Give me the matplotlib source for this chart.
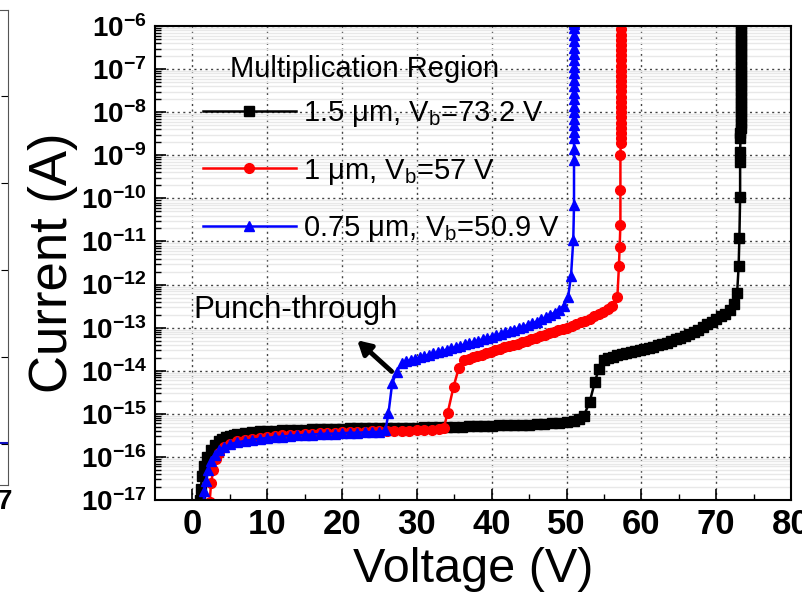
import numpy as np
import matplotlib
matplotlib.use("Agg")
import matplotlib.pyplot as plt
from matplotlib import font_manager

# ---- data (voltage in V, log10 of current in A) ----
black_v = [1.0, 1.1, 1.3, 1.6, 2.0, 2.5, 3.0, 3.5, 4.0, 4.5, 5, 5.5,
           6, 7, 8, 9, 10, 11, 12, 13, 14, 15, 16, 17, 18, 19, 20,
           21, 22, 23, 24, 25, 26, 27, 28, 29, 30, 31, 32, 33, 34, 35,
           36, 37, 38, 39, 40, 41, 42, 43, 44, 45, 46, 47, 48, 49, 50, 51,
           51.7, 52.3, 53.1, 53.8, 54.3, 55.0, 55.6, 56.2, 56.8, 57.4, 58.0,
           58.6, 59.2, 59.8, 60.4, 61.0, 61.6, 62.2, 62.8, 63.4, 64.0, 64.6,
           65.2, 65.8, 66.4, 67.0, 67.6, 68.2, 68.8, 69.4, 70.0, 70.6, 71.2,
           71.8, 72.4, 72.8, 73.0, 73.1, 73.2, 73.2, 73.2,
           73.25, 73.25, 73.3, 73.3, 73.3, 73.3, 73.3, 73.3, 73.3, 73.3,
           73.3, 73.3, 73.3, 73.3, 73.3, 73.3, 73.3, 73.3, 73.3, 73.3,
           73.3, 73.3, 73.3]
black_logi = [-17.0, -16.75, -16.45, -16.2, -16.0, -15.85, -15.72, -15.64, -15.58, -15.54, -15.51, -15.48,
              -15.46, -15.44, -15.42, -15.41, -15.40, -15.39, -15.38, -15.38, -15.37, -15.37, -15.36, -15.36, -15.35, -15.35, -15.35,
              -15.34, -15.34, -15.34, -15.33, -15.33, -15.33, -15.33, -15.32, -15.32, -15.32, -15.31, -15.31, -15.31, -15.30, -15.30,
              -15.30, -15.29, -15.29, -15.28, -15.28, -15.27, -15.27, -15.26, -15.25, -15.25, -15.24, -15.23, -15.22, -15.21, -15.20, -15.17,
              -15.12, -15.05, -14.72, -14.25, -13.97, -13.75, -13.70, -13.67, -13.64, -13.61, -13.59,
              -13.56, -13.54, -13.52, -13.49, -13.47, -13.44, -13.41, -13.38, -13.35, -13.31, -13.27,
              -13.23, -13.19, -13.15, -13.10, -13.05, -12.99, -12.92, -12.86, -12.80, -12.74, -12.68,
              -12.60, -12.45, -12.20, -11.58, -10.93, -9.96, -9.15, -8.92,
              -8.60, -8.48, -8.36, -8.24, -8.12, -8.00, -7.88, -7.76, -7.64, -7.52,
              -7.40, -7.28, -7.16, -7.04, -6.92, -6.80, -6.68, -6.56, -6.44, -6.32,
              -6.20, -6.08, -5.96]

red_v = [2.3, 2.5, 2.8, 3.2, 3.6, 4.2, 5, 6, 7, 8, 9, 10, 11, 12, 13, 14, 15,
         16, 17, 18, 19, 20, 21, 22, 23, 24, 25, 26, 27, 28, 29, 30, 31, 32, 33,
         33.6, 34.1, 34.9, 35.6, 36.3, 36.9, 37.5, 38.1, 38.7, 39.3, 39.9, 40.5,
         41.1, 41.7, 42.3, 42.9, 43.5, 44.1, 44.7, 45.3, 45.9, 46.5, 47.1, 47.7,
         48.3, 48.9, 49.5, 50.1, 50.7, 51.3, 51.9, 52.5, 53.1, 53.7, 54.3, 54.9,
         55.5, 56.1, 56.8, 57.0, 57.1, 57.2, 57.2, 57.2,
         57.25, 57.25, 57.25, 57.3, 57.3, 57.3, 57.3, 57.3, 57.3, 57.3, 57.3,
         57.3, 57.3, 57.3, 57.3, 57.3, 57.3, 57.3, 57.3, 57.3, 57.3, 57.3, 57.3]
red_logi = [-17.05, -16.6, -16.3, -16.05, -15.9, -15.78, -15.70, -15.64, -15.61, -15.58, -15.56, -15.53, -15.52, -15.50, -15.49, -15.48, -15.47,
            -15.46, -15.45, -15.45, -15.44, -15.43, -15.43, -15.42, -15.42, -15.41, -15.41, -15.40, -15.40, -15.39, -15.39, -15.38, -15.38, -15.37, -15.36,
            -15.32, -14.99, -14.37, -13.94, -13.75, -13.72, -13.69, -13.66, -13.63, -13.60, -13.56, -13.52,
            -13.49, -13.46, -13.43, -13.40, -13.37, -13.34, -13.31, -13.27, -13.23, -13.20, -13.16, -13.13,
            -13.09, -13.06, -13.03, -13.00, -12.96, -12.92, -12.88, -12.84, -12.79, -12.74, -12.69, -12.64,
            -12.57, -12.50, -12.28, -11.58, -11.12, -10.62, -9.81, -8.99,
            -8.72, -8.60, -8.48, -8.36, -8.24, -8.12, -8.00, -7.88, -7.76, -7.64, -7.52,
            -7.40, -7.28, -7.16, -7.04, -6.92, -6.80, -6.68, -6.56, -6.44, -6.32, -6.20, -6.08]

blue_v = [1.5, 1.6, 1.8, 2.1, 2.5, 3.0, 3.5, 4.2, 5, 6, 7, 8, 9, 10, 11, 12, 13,
          14, 15, 16, 17, 18, 19, 20, 21, 22, 23, 24, 25, 25.8,
          26.2, 26.7, 27.3, 28.0, 28.6, 29.2, 29.8, 30.4, 31.0, 31.6, 32.2, 32.8,
          33.4, 34.0, 34.6, 35.2, 35.8, 36.4, 37.0, 37.6, 38.2, 38.8, 39.4, 40.0,
          40.6, 41.2, 41.8, 42.4, 43.0, 43.6, 44.2, 44.8, 45.4, 46.0, 46.6, 47.2,
          47.8, 48.4, 49.0, 49.6, 50.2, 50.6, 50.9, 51.0, 51.0, 51.0,
          51.0, 51.0, 51.0, 51.05, 51.05, 51.05, 51.05, 51.05, 51.05, 51.05,
          51.05, 51.05, 51.05, 51.05, 51.05, 51.05, 51.05, 51.05, 51.05, 51.05, 51.05, 51.05]
blue_logi = [-17.05, -16.8, -16.55, -16.3, -16.1, -15.95, -15.85, -15.77, -15.71, -15.66, -15.63, -15.60, -15.58, -15.56, -15.54, -15.53, -15.51,
             -15.50, -15.49, -15.48, -15.47, -15.46, -15.46, -15.45, -15.44, -15.44, -15.43, -15.42, -15.42, -15.38,
             -14.99, -14.29, -14.02, -13.83, -13.78, -13.75, -13.72, -13.69, -13.66, -13.63, -13.60, -13.57,
             -13.54, -13.51, -13.48, -13.45, -13.42, -13.39, -13.36, -13.33, -13.30, -13.27, -13.24, -13.21,
             -13.18, -13.15, -13.11, -13.08, -13.05, -13.01, -12.98, -12.94, -12.90, -12.86, -12.81, -12.76,
             -12.71, -12.65, -12.58, -12.50, -12.30, -11.80, -10.97, -10.15, -9.11, -8.85,
             -8.60, -8.45, -8.30, -8.15, -8.00, -7.85, -7.70, -7.55, -7.40, -7.25,
             -7.10, -6.95, -6.80, -6.65, -6.50, -6.35, -6.20, -6.05, -5.95, -5.90, -5.85, -5.80]

labels = ["1.5 \u03bcm, V$_\\mathregular{b}$=73.2 V",
          "1 \u03bcm, V$_\\mathregular{b}$=57 V",
          "0.75 \u03bcm, V$_\\mathregular{b}$=50.9 V"]
x_ticks = [0, 10, 20, 30, 40, 50, 60, 70, 80]
y_exps = list(range(-17, -5))

# ---- fonts ----
names = {f.name for f in font_manager.fontManager.ttflist}
narrow = "Liberation Sans Narrow" if "Liberation Sans Narrow" in names else "Liberation Sans"
plt.rcParams["font.family"] = ["Liberation Sans", "DejaVu Sans"]
plt.rcParams["mathtext.fontset"] = "custom"
plt.rcParams["mathtext.rm"] = "Liberation Sans"
plt.rcParams["mathtext.bf"] = "Liberation Sans:bold"

fig = plt.figure(figsize=(8.02, 6.06), dpi=100)

# sliver of the neighbouring panel at the far left
ax0 = fig.add_axes([-0.2, 1 - 485 / 606, 0.2 + 8 / 802, 475 / 606])
ax0.set_xlim(0, 1)
ax0.set_ylim(0, 1)
ax0.plot([0, 1], [0.088, 0.088], color="#1010c0", lw=1.5)
ax0.yaxis.tick_right()
ax0.set_yticks([0.086, 0.269, 0.453, 0.636, 0.819])
ax0.tick_params(axis="y", direction="in", length=5, labelright=False)
ax0.set_xticks([])
for s in ax0.spines.values():
    s.set_color("#555555")
fig.text(-0.004, 1 - 502 / 606, "7", fontsize=20, fontweight="bold", ha="left", va="center")

ax = fig.add_axes([155 / 802, 1 - 500 / 606, 636 / 802, 474 / 606])

ax.plot(black_v, 10 ** np.array(black_logi), color="black", marker="s", ms=6.5, lw=1.8, label=labels[0])
ax.plot(red_v, 10 ** np.array(red_logi), color="red", marker="o", ms=7, lw=1.8, label=labels[1])
ax.plot(blue_v, 10 ** np.array(blue_logi), color="blue", marker="^", ms=7.5, lw=1.8, label=labels[2])

ax.set_yscale("log")
ax.set_xlim(-5, 80)
ax.set_ylim(1e-17, 1e-6)

ax.set_xticks(x_ticks)
ax.set_xticks(np.arange(5, 80, 10), minor=True)
ax.set_xticklabels([str(t) for t in x_ticks], fontsize=25, fontweight="bold", family=narrow)
ax.set_yticks([10.0 ** e for e in y_exps])
ax.set_yticklabels([r"$\mathbf{10^{%d}}$" % e for e in y_exps], fontsize=20)
ax.yaxis.set_minor_locator(matplotlib.ticker.LogLocator(base=10, subs=np.arange(2, 10), numticks=100))
ax.yaxis.set_minor_formatter(matplotlib.ticker.NullFormatter())

ax.tick_params(which="major", direction="in", length=8, width=1.2, top=False, right=False, pad=6)
ax.tick_params(which="minor", direction="in", length=4, width=1.0, top=False, right=False)

ax.grid(True, which="minor", axis="y", color="#e8e8e8", lw=1.0, ls="-")
ax.grid(True, which="major", color="#444444", lw=1.0, ls=(0, (1.5, 2.5)))
ax.set_axisbelow(True)
for s in ax.spines.values():
    s.set_linewidth(1.5)

ax.set_xlabel("Voltage (V)", fontsize=35, labelpad=4)
ax.set_ylabel("Current (A)", fontsize=38, labelpad=2)

leg = ax.legend(loc="upper left", bbox_to_anchor=(0.075, 0.845), frameon=False, fontsize=21,
                handlelength=3.2, handletextpad=0.25, labelspacing=0.93, numpoints=1,
                borderaxespad=0, borderpad=0)
ax.text(0.330, 0.909, "Multiplication Region", transform=ax.transAxes, fontsize=21,
        ha="center", va="center")

ax.annotate("", xy=(21.75, 10 ** -13.25), xytext=(26.9, 10 ** -14.06),
            arrowprops=dict(arrowstyle="-|>,head_width=0.45,head_length=0.8", color="black", lw=3.5))
ax.text(0.1, 10 ** -12.59, "Punch-through", fontsize=22.5, ha="left", va="center")

fig.savefig("out.png", dpi=100)
